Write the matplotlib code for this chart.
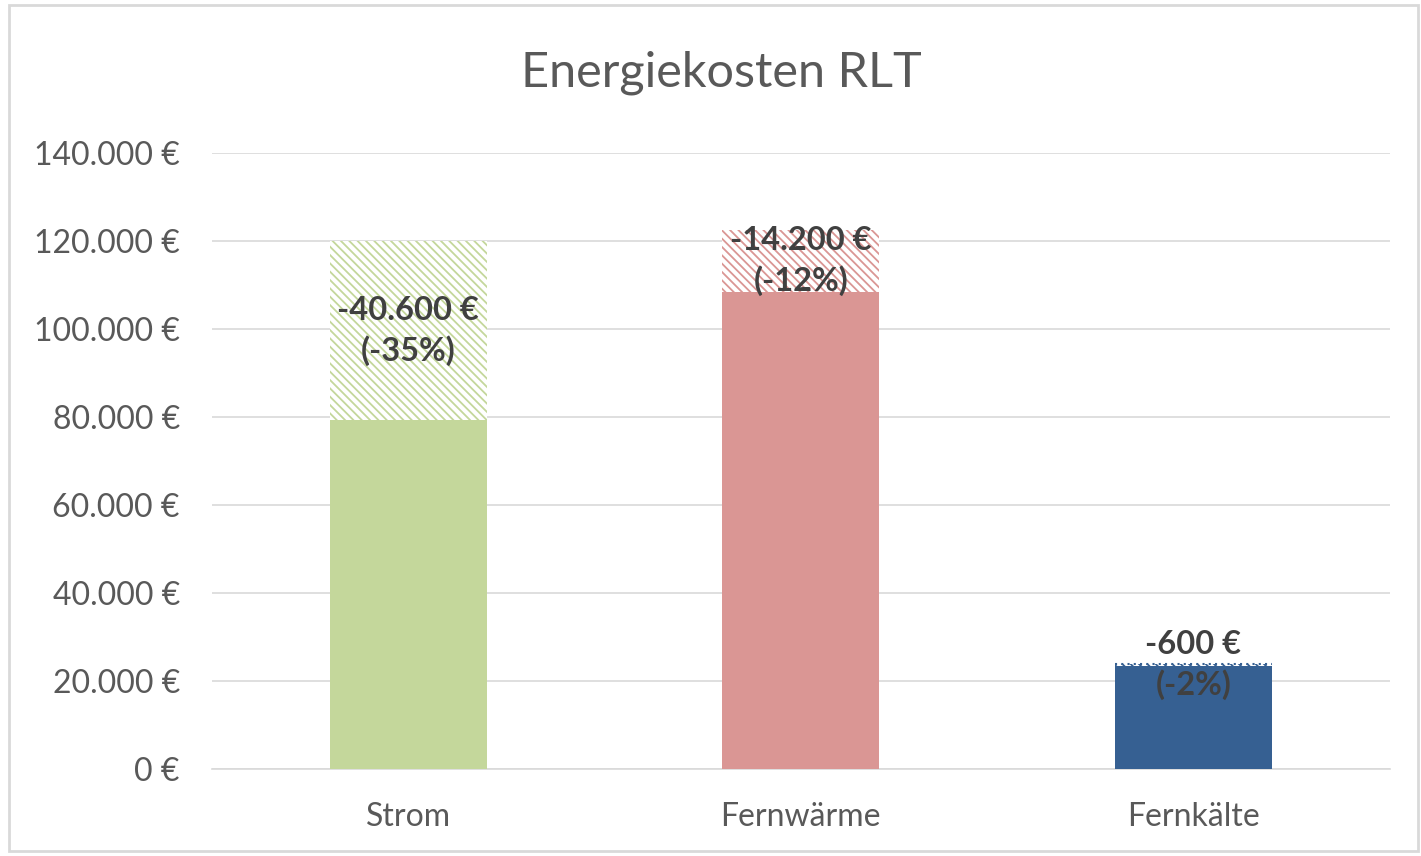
import matplotlib.pyplot as plt
import matplotlib as mpl
from matplotlib.patches import Rectangle
from matplotlib.ticker import FuncFormatter

categories = ["Strom", "Fernwärme", "Fernkälte"]
base_costs = [79300, 108400, 23300]
savings = [40600, 14200, 600]
label_pct = ["-35%", "-12%", "-2%"]
colors = ["#C4D79B", "#DA9694", "#366092"]

plt.rcParams['font.family'] = ['Lato', 'DejaVu Sans']
plt.rcParams['hatch.linewidth'] = 1.3

fig = plt.figure(figsize=(14.21, 8.56), dpi=100)
ax = fig.add_axes([0.149, 0.1016, 0.829, 0.7197])

x = range(len(categories))
ax.bar(x, base_costs, width=0.4, color=colors, zorder=3)
for i in x:
    ax.bar(i, savings[i], bottom=base_costs[i], width=0.4, facecolor='white',
           edgecolor=colors[i], linewidth=0, hatch='\\\\\\\\', zorder=3)
    if i == 2:
        top = base_costs[i] + savings[i]
        ax.plot([i - 0.2, i + 0.2], [top, top], color=colors[i], lw=1.5,
                ls=(0, (1, 2)), zorder=4)
    eur = "{:,}".format(-savings[i]).replace(",", ".") + " €"
    ax.text(i, base_costs[i] + savings[i] / 2, eur + "\n(" + label_pct[i] + ")",
            ha='center', va='center', fontsize=23.5, fontweight='bold',
            color='#404040', linespacing=1.4, zorder=5)

ax.set_ylim(0, 140000)
ax.set_xlim(-0.5, 2.5)
ax.set_yticks(range(0, 140001, 20000))
ax.yaxis.set_major_formatter(FuncFormatter(lambda v, p: "{:,.0f} €".format(v).replace(",", ".")))
ax.set_xticks(list(x))
ax.set_xticklabels(categories)
ax.tick_params(axis='both', length=0, labelsize=23, labelcolor='#595959')
ax.tick_params(axis='x', pad=24)
ax.tick_params(axis='y', pad=23)
ax.grid(axis='y', color='#D9D9D9', lw=1.2, zorder=0)
for s in ['top', 'right', 'left']:
    ax.spines[s].set_visible(False)
ax.spines['bottom'].set_color('#D9D9D9')
ax.spines['bottom'].set_linewidth(1.2)

fig.text(0.508, 0.915, "Energiekosten RLT", ha='center', va='center',
         fontsize=35, color='#595959')

fig.patches.append(Rectangle((0.006, 0.006), 0.992, 0.988, transform=fig.transFigure,
                             fill=False, edgecolor='#D9D9D9', lw=2))

fig.savefig("out.png", dpi=100)
